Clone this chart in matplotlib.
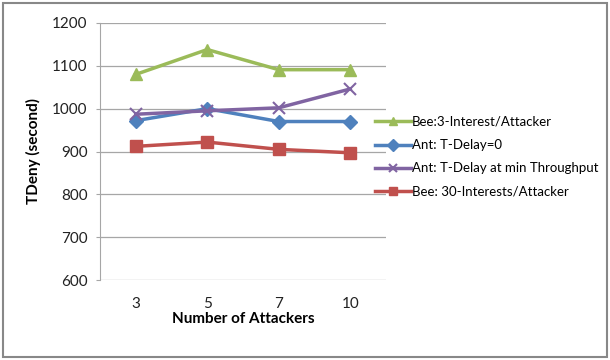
import matplotlib
matplotlib.use("Agg")
import matplotlib.pyplot as plt
from matplotlib.patches import Rectangle

plt.rcParams['font.family'] = ['Lato', 'DejaVu Sans']

categories = ["3", "5", "7", "10"]
bee_3 = [1080, 1138, 1091, 1091]
ant_delay0 = [972, 1000, 970, 970]
ant_min_tp = [987, 995, 1002, 1046]
bee_30 = [912, 922, 905, 897]

series = [
    ("Bee:3-Interest/Attacker", bee_3, "#9BBB59", "^", 9),
    ("Ant: T-Delay=0", ant_delay0, "#4F81BD", "D", 7),
    ("Ant: T-Delay at min Throughput", ant_min_tp, "#8064A2", "x", 9),
    ("Bee: 30-Interests/Attacker", bee_30, "#C0504D", "s", 8),
]

fig = plt.figure(figsize=(6.10, 3.60), dpi=100)
W, H = 610, 360
ax = fig.add_axes([100 / W, 1 - 280 / H, (386 - 100) / W, (280 - 23) / H])

x = list(range(len(categories)))
handles = []
for label, vals, color, marker, ms in series:
    mew = 1.5 if marker == "x" else 1
    h, = ax.plot(x, vals, color=color, linewidth=2.5, marker=marker,
                 markersize=ms, markeredgewidth=mew, label=label)
    handles.append(h)

ax.set_xlim(-0.5, len(categories) - 0.5)
ax.set_ylim(600, 1200)
ax.set_yticks(range(600, 1201, 100))
ax.set_xticks(x)
ax.set_xticklabels(categories)
ax.yaxis.grid(True, color="#A6A6A6", linewidth=0.9)
ax.set_axisbelow(True)
for side in ["top", "right", "bottom"]:
    ax.spines[side].set_visible(False)
ax.spines["left"].set_color("#A6A6A6")
ax.tick_params(axis="y", length=3, color="#A6A6A6", labelsize=11, pad=6, labelcolor="#222222")
ax.tick_params(axis="x", length=0, labelsize=11, pad=12, labelcolor="#222222")

ax.set_xlabel("Number of Attackers", fontsize=11, fontweight="bold", labelpad=1)
ax.set_ylabel("TDeny (second)", fontsize=11, fontweight="bold", labelpad=8)

leg = fig.legend(handles=handles, loc="upper left",
                 bbox_to_anchor=(375 / W, 1 - 116 / H), frameon=False,
                 fontsize=9.5, handlelength=2.7, handletextpad=0.1,
                 labelspacing=0.85, borderaxespad=0, borderpad=0)
for line in leg.get_lines():
    line.set_linewidth(2.5)
    line.set_markersize(6)

fig.patches.append(Rectangle((3 / W, 3 / H), (607 - 3) / W, (357 - 3) / H,
                             transform=fig.transFigure, fill=False,
                             edgecolor="#888888", linewidth=1.5))

fig.savefig("out.png", dpi=100)
